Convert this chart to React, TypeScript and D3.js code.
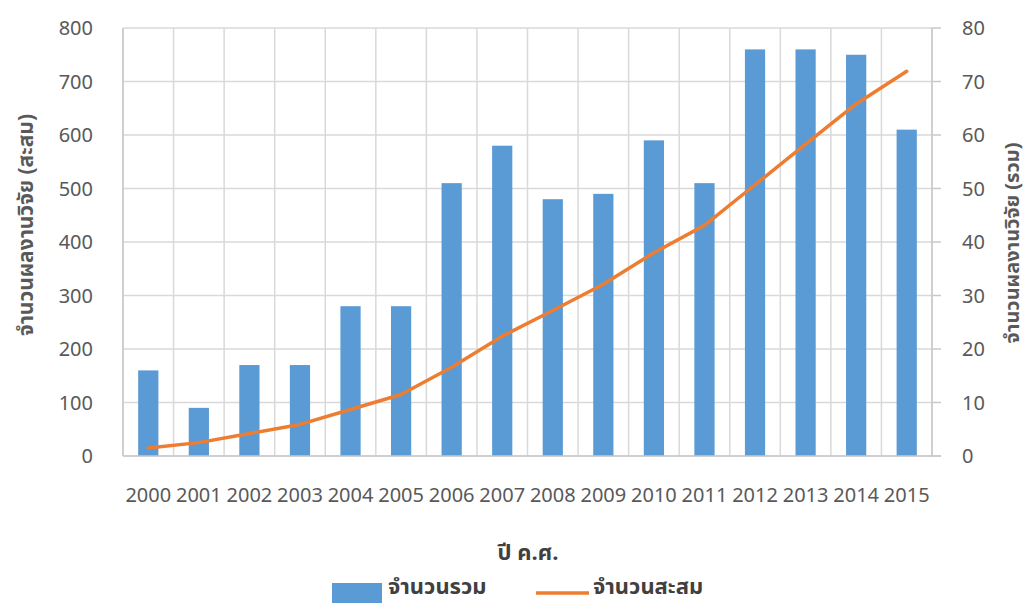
import React from "react";
import * as d3 from "d3";

const years = ["2000","2001","2002","2003","2004","2005","2006","2007","2008","2009","2010","2011","2012","2013","2014","2015"];
const totals = [16, 9, 17, 17, 28, 28, 51, 58, 48, 49, 59, 51, 76, 76, 75, 61];
const cumulative = [15, 25, 42, 59, 87, 115, 166, 224, 272, 321, 380, 431, 507, 583, 658, 719];
const leftTicks = [0, 100, 200, 300, 400, 500, 600, 700, 800];
const rightTicks = [0, 10, 20, 30, 40, 50, 60, 70, 80];

const W = 1030, H = 603;
const L = 123, R = 932, T = 28, B = 456;
const FONT = "'Noto Sans Thai', 'Open Sans', 'Noto Sans', sans-serif";

export default function App() {
  const x = d3.scaleBand<string>().domain(years).range([L, R]).padding(0);
  const yL = d3.scaleLinear().domain([0, 800]).range([B, T]);
  const yR = d3.scaleLinear().domain([0, 80]).range([B, T]);
  const bw = x.bandwidth() * 0.4;
  const line = d3
    .line<number>()
    .x((_, i) => (x(years[i]) as number) + x.bandwidth() / 2)
    .y((d) => yL(d));

  const boundaries = years.map((y) => x(y) as number).concat([R]);

  return (
    <svg width={W} height={H} style={{ position: "absolute", left: 0, top: 0, background: "#fff" }} fontFamily={FONT}>
      <rect x={0} y={0} width={W} height={H} fill="#fff" />
      {leftTicks.map((t) => (
        <line key={"h" + t} x1={L} x2={R} y1={yL(t)} y2={yL(t)} stroke="#d9d9d9" strokeWidth={1.5} />
      ))}
      {boundaries.map((b, i) => (
        <line key={"v" + i} x1={b} x2={b} y1={T} y2={B} stroke="#d9d9d9" strokeWidth={1.5} />
      ))}
      {years.map((yr, i) => (
        <rect
          key={"b" + yr}
          x={(x(yr) as number) + (x.bandwidth() - bw) / 2}
          y={yR(totals[i])}
          width={bw}
          height={B - yR(totals[i])}
          fill="#5b9bd5"
        />
      ))}
      <line x1={L} x2={L} y1={T} y2={B} stroke="#c8c8c8" strokeWidth={1.5} />
      <line x1={R} x2={R} y1={T} y2={B} stroke="#c8c8c8" strokeWidth={1.5} />
      <line x1={L} x2={R + 9} y1={B} y2={B} stroke="#c8c8c8" strokeWidth={1.5} />
      {rightTicks.map((t) => (
        <line key={"rt" + t} x1={R} x2={R + 9} y1={yR(t)} y2={yR(t)} stroke="#c8c8c8" strokeWidth={1.5} />
      ))}
      <path d={line(cumulative) || ""} fill="none" stroke="#ed7d31" strokeWidth={3.5} strokeLinecap="round" strokeLinejoin="round" />
      {leftTicks.map((t) => (
        <text key={"lt" + t} x={93} y={yL(t)} dy="0.35em" textAnchor="end" fontSize={20} fill="#595959">
          {t}
        </text>
      ))}
      {rightTicks.map((t) => (
        <text key={"rl" + t} x={962} y={yR(t)} dy="0.35em" textAnchor="start" fontSize={20} fill="#595959">
          {t}
        </text>
      ))}
      {years.map((yr) => (
        <text key={"xl" + yr} x={(x(yr) as number) + x.bandwidth() / 2} y={502} textAnchor="middle" fontSize={20} fill="#595959">
          {yr}
        </text>
      ))}
      <text transform={`translate(33,225) rotate(-90)`} textAnchor="middle" fontSize={21} fontWeight="bold" fill="#595959">
        จำนวนผลงานวิจัย (สะสม)
      </text>
      <text transform={`translate(1019,243) rotate(-90)`} textAnchor="middle" fontSize={20} fontWeight="bold" fill="#595959">
        จำนวนผลงานวิจัย (รวม)
      </text>
      <text x={528} y={560} textAnchor="middle" fontSize={22} fontWeight="bold" fill="#404040">
        ปี ค.ศ.
      </text>
      <rect x={332} y={583} width={50} height={20} fill="#5b9bd5" />
      <text x={388} y={594} fontSize={22} fontWeight="bold" fill="#404040">
        จำนวนรวม
      </text>
      <line x1={536} x2={589} y1={593} y2={593} stroke="#ed7d31" strokeWidth={3.5} />
      <text x={593} y={594} fontSize={22} fontWeight="bold" fill="#404040">
        จำนวนสะสม
      </text>
    </svg>
  );
}
